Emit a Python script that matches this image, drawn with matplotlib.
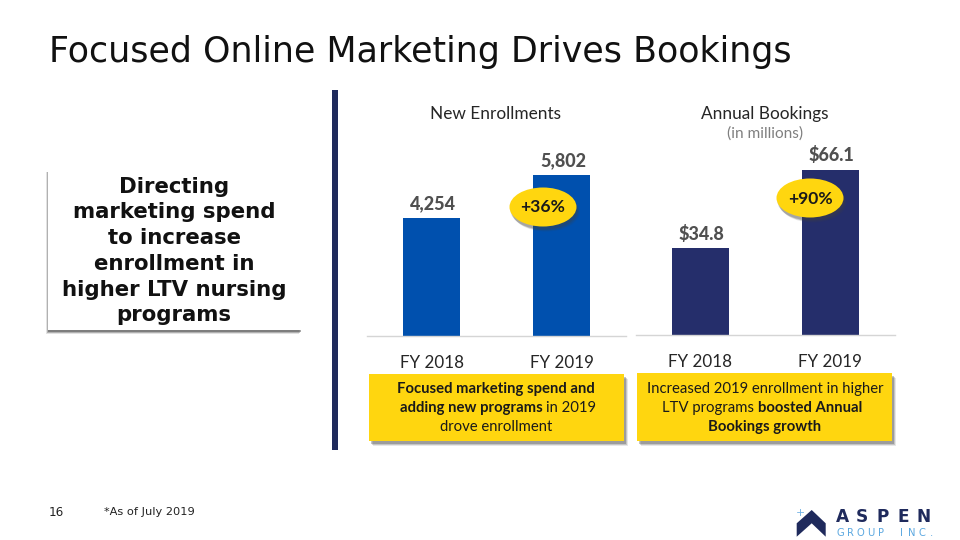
import matplotlib
matplotlib.use("Agg")
import matplotlib.pyplot as plt
from matplotlib.patches import Rectangle, Ellipse, Polygon

W, H = 960, 540
body_font = "Lato"
slide_font = "DejaVu Sans"

categories = ["FY 2018", "FY 2019"]
enrollments = [4254, 5802]
enroll_labels = ["4,254", "5,802"]
bookings = [34.8, 66.1]
bookings_labels = ["$34.8", "$66.1"]

navy = "#1F2A5C"
blue = "#0050AE"
dark_blue = "#252E6B"
yellow = "#FFD60F"
grey_text = "#505050"

plt.rcParams["font.family"] = body_font
fig = plt.figure(figsize=(W / 100, H / 100), dpi=100, facecolor="white")


def px(size):
    # font size given in pixels of the 960 wide slide
    return size * 0.72


def bar_axes(left, right, first, top, base, values, labels, color, per_px):
    ax = fig.add_axes([left / W, 1 - base / H, (right - left) / W, (base - top) / H])
    ax.bar(range(2), values, width=0.44, color=color)
    ax.set_xlim((left - first) / 130, (right - first) / 130)
    ax.set_ylim(0, (base - top) * per_px)
    ax.set_yticks([])
    ax.set_xticks(range(2))
    ax.set_xticklabels(categories, fontsize=px(17), color="#262626")
    ax.tick_params(axis="x", length=0, pad=13.5)
    for s in ["top", "left", "right"]:
        ax.spines[s].set_visible(False)
    ax.spines["bottom"].set_color("#D5D5D5")
    ax.spines["bottom"].set_linewidth(1)
    ax.patch.set_alpha(0)
    for i, v in enumerate(values):
        ax.annotate(labels[i], (i, v), xytext=(1, 4), textcoords="offset points",
                    ha="center", va="bottom", fontsize=px(18), fontweight="black", color=grey_text)
    return ax


bar_axes(367, 625.5, 431.5, 120, 336, enrollments, enroll_labels, blue, 5802 / 161)
bar_axes(636, 895, 700.5, 120, 335, bookings, bookings_labels, dark_blue, 66.1 / 165)

# slide furniture goes on a pixel axes over the charts
ov = fig.add_axes([0, 0, 1, 1], zorder=5)
ov.set_xlim(0, W)
ov.set_ylim(H, 0)
ov.axis("off")


def box(x0, y0, x1, y1, color):
    for d, a in [(5, 0.12), (4, 0.2), (3, 0.3)]:
        ov.add_patch(Rectangle((x0 + d - 1, y0 + d), x1 - x0, y1 - y0, fc="#404040", alpha=a, ec="none"))
    ov.add_patch(Rectangle((x0, y0), x1 - x0, y1 - y0, fc=color, ec="none"))


def badge(cx, cy, txt):
    for d, a in [(5, 0.12), (4, 0.18), (3, 0.25)]:
        ov.add_patch(Ellipse((cx + d - 2, cy + d), 67, 39, fc="#404040", alpha=a, ec="none"))
    ov.add_patch(Ellipse((cx, cy), 67, 39, fc=yellow, ec="none"))
    ov.text(cx, cy + 0.5, txt, ha="center", va="center", fontsize=px(17.5), fontweight="bold", color="#1A1A1A")


ov.text(49, 52, "Focused Online Marketing Drives Bookings", fontsize=px(34.9), family=slide_font,
        color="#111111", ha="left", va="center")
ov.add_patch(Rectangle((332, 90), 6, 360, fc=navy, ec="none"))

# white callout, shadow only shows on the left and along the bottom
for d, a in [(0, 0.15), (1, 0.3), (2, 0.45)]:
    ov.add_patch(Rectangle((46 + d, 172), 253, 162 - d, fc="#404040", alpha=a, ec="none"))
ov.add_patch(Rectangle((48, 168), 254, 162, fc="white", ec="none"))
ov.text(174, 251, "Directing\nmarketing spend\nto increase\nenrollment in\nhigher LTV nursing\nprograms",
        family=slide_font, fontweight="bold", fontsize=px(21.3), color="#111111",
        ha="center", va="center", linespacing=1.36)

ov.text(495, 114, "New Enrollments", ha="center", va="center", fontsize=px(17.3), color="#262626")
ov.text(765, 113.5, "Annual Bookings", ha="center", va="center", fontsize=px(17.3), color="#262626")
ov.text(765, 134, "(in millions)", ha="center", va="center", fontsize=px(15.4), color="#7F7F7F")

badge(543, 207, "+36%")
badge(810, 198, "+90%")

box(369, 374, 624, 441, yellow)
box(637, 373, 892, 441, yellow)

cap = dict(ha="center", va="center", fontsize=px(14.9), color="#1A1A1A")
ov.text(496, 389, "Focused marketing spend and", fontweight="bold", **cap)
ov.text(471, 408, "adding new programs", fontweight="bold", **cap)
ov.text(571, 408, "in 2019", **cap)
ov.text(496, 427, "drove enrollment", **cap)
ov.text(765, 389, "Increased 2019 enrollment in higher", **cap)
ov.text(708, 408, "LTV programs", **cap)
ov.text(810, 408, "boosted Annual", fontweight="bold", **cap)
ov.text(765, 427, "Bookings growth", fontweight="bold", **cap)

ov.text(49, 512, "16", family=slide_font, fontsize=px(12), color="#222222", va="center")
ov.text(104, 512, "*As of July 2019", family=slide_font, fontsize=px(11.4), color="#222222", va="center")

# logo
ov.add_patch(Polygon([(811.7, 510), (825.7, 523.3), (825.7, 536.7), (811.7, 523.3),
                      (796.7, 536.7), (796.7, 523.3)], fc=navy, ec="none"))
ov.text(800, 512.5, "+", family=slide_font, fontsize=px(11), color="#6FB1E4", ha="center", va="center")
for i, ch in enumerate("ASPEN"):
    ov.text(842 + i * 20.3, 517, ch, family=slide_font, fontweight="bold", fontsize=px(17),
            color=navy, ha="center", va="center")
for i, ch in enumerate("GROUP INC."):
    ov.text(840 + i * 10.2, 533, ch, family=slide_font, fontsize=px(10),
            color="#5AA7E0", ha="center", va="center")

fig.savefig("out.png", dpi=100, facecolor="white")
